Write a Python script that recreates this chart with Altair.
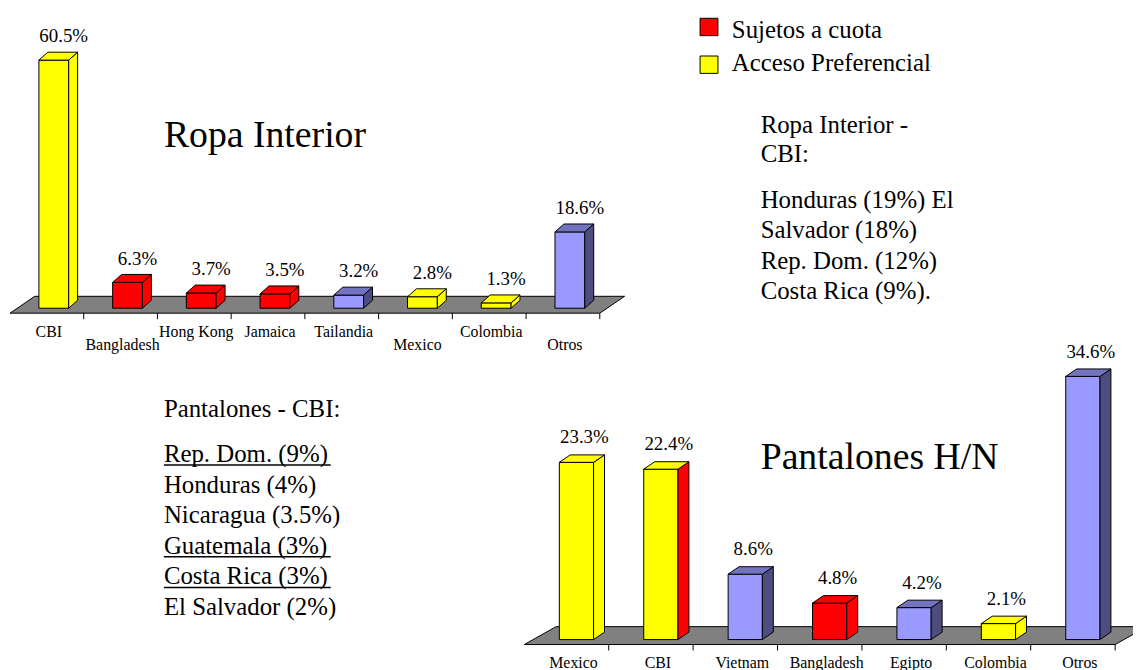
import altair as alt
import pandas as pd

# ---------------- data ----------------
ri_categories = ["CBI", "Bangladesh", "Hong Kong", "Jamaica", "Tailandia", "Mexico", "Colombia", "Otros"]
ri_values = [60.5, 6.3, 3.7, 3.5, 3.2, 2.8, 1.3, 18.6]
ri_front_group = ["pref", "cuota", "cuota", "cuota", "otros", "pref", "pref", "otros"]
ri_side_group = ["pref", "cuota", "cuota", "cuota", "otros", "pref", "pref", "otros"]

pa_categories = ["Mexico", "CBI", "Vietnam", "Bangladesh", "Egipto", "Colombia", "Otros"]
pa_values = [23.3, 22.4, 8.6, 4.8, 4.2, 2.1, 34.6]
pa_front_group = ["pref", "pref", "otros", "cuota", "otros", "pref", "otros"]
pa_side_group = ["pref", "cuota", "otros", "cuota", "otros", "pref", "otros"]

legend_labels = ["Sujetos a cuota", "Acceso Preferencial"]
legend_groups = ["cuota", "pref"]

ri_title = "Ropa Interior"
pa_title = "Pantalones H/N"
ri_note_head = ["Ropa Interior -", "CBI:"]
ri_note_lines = ["Honduras (19%) El", "Salvador (18%)", "Rep. Dom. (12%)", "Costa Rica (9%)."]
pa_note_head = "Pantalones - CBI:"
pa_note_lines = ["Rep. Dom. (9%)", "Honduras (4%)", "Nicaragua (3.5%)",
                 "Guatemala (3%)", "Costa Rica (3%)", "El Salvador (2%)"]
pa_note_underlined = [True, False, False, True, True, False]

# ---------------- style ----------------
FONT = "'Liberation Serif', 'Times New Roman', Times, serif"
FRONT = {"pref": "#FFFF00", "cuota": "#FF0000", "otros": "#9999FF"}
SIDE = {"pref": "#FFFF00", "cuota": "#FF0000", "otros": "#4D4D80"}
TOP = {"pref": "#FFFF00", "cuota": "#FF0000", "otros": "#7373BF"}

RI_GEOM = dict(x_px=(2, 596), y0_px=305, k=4.13, ymax=70, floor_px=(25, 17), plane_px=(7, 5),
               bar_w_px=30, depth_px=(9, 8), tick_px=6, val_dx=10, val_dy=24,
               cat_dy=19, cat_drop=13, cat_dx=2, low=("Bangladesh", "Mexico", "Otros"),
               val_size=19, cat_size=16)
PA_GEOM = dict(x_px=(520, 1115), y0_px=638.7, k=7.66, ymax=45, floor_px=(32, 18), plane_px=(10, 5),
               bar_w_px=34.5, depth_px=(11, 7.5), tick_px=6, val_dx=8, val_dy=25,
               cat_dy=19, cat_drop=0, cat_dx=7, low=(),
               val_size=19, cat_size=16)


def bar3d(cats, vals, fg, sg, g):
    n = len(cats)
    x0, x1 = g["x_px"]
    upx = n / (x1 - x0)
    upy = 1.0 / g["k"]
    xs = alt.Scale(domain=[0, n], range=[x0, x1], nice=False, zero=False)
    ys = alt.Scale(domain=[0, g["ymax"]], range=[g["y0_px"], g["y0_px"] - g["ymax"] * g["k"]],
                   nice=False, zero=False)
    fdx, fdy = g["floor_px"][0] * upx, g["floor_px"][1] * upy
    pdx, pdy = g["plane_px"][0] * upx, g["plane_px"][1] * upy
    bw = g["bar_w_px"] * upx
    bdx, bdy = g["depth_px"][0] * upx, g["depth_px"][1] * upy

    floor = pd.DataFrame({"y": [0.0, fdy], "x": [0.0, fdx], "x2": [float(n), n + fdx]})
    floor_layer = alt.Chart(floor).mark_area(
        orient="horizontal", fill="#808080", stroke="black", strokeWidth=1
    ).encode(y=alt.Y("y:Q", scale=ys, axis=None), x=alt.X("x:Q", scale=xs, axis=None), x2="x2:Q")

    ticks = pd.DataFrame({"x": [float(i) for i in range(1, n + 1)]})
    ticks["y"] = 0.0
    ticks["y2"] = -g["tick_px"] * upy
    tick_layer = alt.Chart(ticks).mark_rule(color="black", strokeWidth=1).encode(
        x=alt.X("x:Q", scale=xs, axis=None), y=alt.Y("y:Q", scale=ys, axis=None), y2="y2:Q")

    front, side, top, labels = [], [], [], []
    for i, (c, v, f, s) in enumerate(zip(cats, vals, fg, sg)):
        cx = i + 0.5 + pdx
        xl, xr = cx - bw / 2, cx + bw / 2
        yb, yt = pdy, pdy + v
        front.append(dict(cat=c, xl=xl, xr=xr, yb=yb, yt=yt, col=FRONT[f],
                          lx=cx + g["val_dx"] * upx, ly=yt + g["val_dy"] * upy, label=f"{v:.1f}%"))
        side += [dict(cat=c, x=xr, lo=yb, hi=yt, col=SIDE[s]),
                 dict(cat=c, x=xr + bdx, lo=yb + bdy, hi=yt + bdy, col=SIDE[s])]
        top += [dict(cat=c, y=yt, xa=xl, xb=xr, col=TOP[f]),
                dict(cat=c, y=yt + bdy, xa=xl + bdx, xb=xr + bdx, col=TOP[f])]
        drop = g["cat_drop"] if c in g["low"] else 0
        labels.append(dict(cat=c, x=i + 0.5 + g["cat_dx"] * upx, y=-(g["cat_dy"] + drop) * upy))
    front = pd.DataFrame(front)
    side = pd.DataFrame(side)
    top = pd.DataFrame(top)
    labels = pd.DataFrame(labels)

    front_layer = alt.Chart(front).mark_rect(stroke="black", strokeWidth=1).encode(
        x=alt.X("xl:Q", scale=xs, axis=None), x2="xr:Q",
        y=alt.Y("yb:Q", scale=ys, axis=None), y2="yt:Q",
        fill=alt.Fill("col:N", scale=None))
    side_layer = alt.Chart(side).mark_area(orient="vertical", stroke="black", strokeWidth=1).encode(
        x=alt.X("x:Q", scale=xs, axis=None),
        y=alt.Y("hi:Q", scale=ys, axis=None), y2="lo:Q",
        detail="cat:N", fill=alt.Fill("col:N", scale=None))
    top_layer = alt.Chart(top).mark_area(orient="horizontal", stroke="black", strokeWidth=1).encode(
        y=alt.Y("y:Q", scale=ys, axis=None),
        x=alt.X("xa:Q", scale=xs, axis=None), x2="xb:Q",
        detail="cat:N", fill=alt.Fill("col:N", scale=None))
    val_layer = alt.Chart(front).mark_text(
        font=FONT, fontSize=g["val_size"], color="black", align="center", baseline="middle"
    ).encode(x=alt.X("lx:Q", scale=xs, axis=None), y=alt.Y("ly:Q", scale=ys, axis=None), text="label:N")
    cat_layer = alt.Chart(labels).mark_text(
        font=FONT, fontSize=g["cat_size"], color="black", align="center", baseline="middle"
    ).encode(x=alt.X("x:Q", scale=xs, axis=None), y=alt.Y("y:Q", scale=ys, axis=None), text="cat:N")

    return alt.layer(floor_layer, tick_layer, front_layer, side_layer, top_layer, val_layer, cat_layer)


ri_chart = bar3d(ri_categories, ri_values, ri_front_group, ri_side_group, RI_GEOM)
pa_chart = bar3d(pa_categories, pa_values, pa_front_group, pa_side_group, PA_GEOM)

one = pd.DataFrame({"k": [0]})


def text_at(t, x, y, size, align="left"):
    return alt.Chart(one).mark_text(font=FONT, fontSize=size, color="black", align=align,
                                    baseline="alphabetic").encode(
        x=alt.value(x), y=alt.value(y), text=alt.value(t))


ann = []
# titles
ann.append(text_at(ri_title, 157, 137.5, 38))
ann.append(text_at(pa_title, 758, 462, 38))

# legend
for i, (lab, grp) in enumerate(zip(legend_labels, legend_groups)):
    top_y = 8 + i * 38
    ann.append(alt.Chart(one).mark_rect(fill=FRONT[grp], stroke="black", strokeWidth=1).encode(
        x=alt.value(697), x2=alt.value(715), y=alt.value(top_y), y2=alt.value(top_y + 17.5)))
    ann.append(text_at(lab, 729, 27.5 + i * 34, 25))

# right note block
for i, t in enumerate(ri_note_head):
    ann.append(text_at(t, 758, 124 + i * 29, 25))
for i, t in enumerate(ri_note_lines):
    ann.append(text_at(t, 758, 199 + i * 30.7, 25))

# bottom-left note block
ann.append(text_at(pa_note_head, 157, 410, 25))
for i, (t, u) in enumerate(zip(pa_note_lines, pa_note_underlined)):
    yb = 455 + i * 30.8
    ann.append(text_at(t, 157, yb, 25))
    if u:
        ann.append(alt.Chart(one).mark_rule(color="black", strokeWidth=1.5).encode(
            x=alt.value(157), x2=alt.value(325), y=alt.value(yb + 3)))

chart = alt.layer(ri_chart, pa_chart, *ann).resolve_scale(
    x="independent", y="independent"
).properties(
    width=1125, height=654,
    padding={"left": 0, "top": 0, "right": 8, "bottom": 8},
    autosize=alt.AutoSizeParams(type="none"),
    background="white",
).configure_view(stroke=None)

chart.save("out.html", embed_options={"renderer": "svg", "actions": False})
